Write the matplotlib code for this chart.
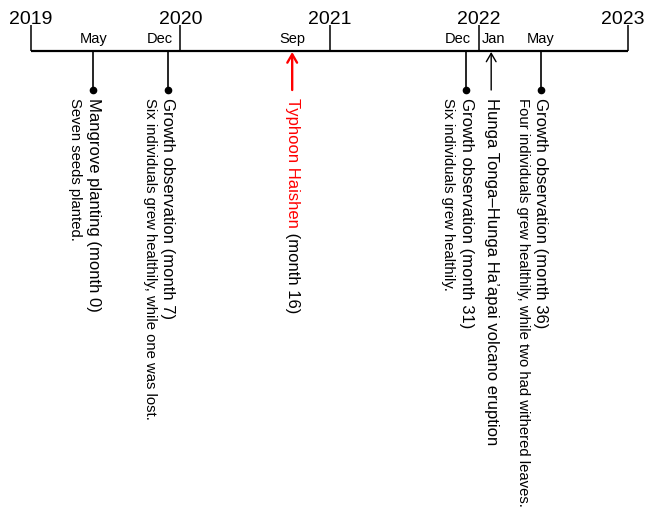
import matplotlib.pyplot as plt

plt.rcParams['font.family'] = ['Liberation Sans', 'DejaVu Sans']

# timeline data
years = [2019, 2020, 2021, 2022, 2023]
event_month = [5, 11, 21, 35, 37, 41]  # months after Jan 2019, as placed on the line
event_label = ['May', 'Dec', 'Sep', 'Dec', 'Jan', 'May']
event_kind = ['dot', 'dot', 'arrow', 'dot', 'arrow', 'dot']
event_color = ['black', 'black', 'red', 'black', 'black', 'black']
event_title = ['Mangrove planting (month 0)',
               'Growth observation (month 7)',
               'Typhoon Haishen',
               'Growth observation (month 31)',
               'Hunga Tonga\u2013Hunga Ha\u2019apai volcano eruption',
               'Growth observation (month 36)']
event_suffix = ['', '', ' (month 16)', '', '', '']
event_note = ['Seven seeds planted.',
              'Six individuals grew healthily, while one was lost.',
              '',
              'Six individuals grew healthily.',
              '',
              'Four individuals grew healthily, while two had withered leaves.']

# label nudges (points) so labels clear the ticks / figure edge
label_shift = {'Dec': -6, 'Jan': 2}
year_shift = {2023: -4}

W, H = 648, 517
x0, px_per_month = 31, 12.4375
fig = plt.figure(figsize=(W / 100, H / 100), dpi=100)
ax = fig.add_axes([0, 0, 1, 1])
ax.set_xlim(-x0 / px_per_month, (W - x0) / px_per_month)
ax.set_ylim(H, 0)
ax.axis('off')

axis_y, tick_top, stem_end, text_top = 51, 25, 90, 98

# main line and year ticks
yx = [(y - years[0]) * 12 for y in years]
ax.plot([yx[0], yx[-1]], [axis_y, axis_y], color='black', lw=1.6,
        solid_capstyle='butt', zorder=3)
ax.vlines(yx, tick_top, axis_y, color='black', lw=1.1)
for x, y in zip(yx, years):
    ax.annotate(str(y), xy=(x, tick_top - 0.5), xytext=(year_shift.get(y, 0), 0),
                textcoords='offset points', ha='center', va='baseline', fontsize=14)

for m, lab, kind, col, title, suf, note in zip(event_month, event_label, event_kind,
                                                event_color, event_title,
                                                event_suffix, event_note):
    ax.annotate(lab, xy=(m, 43), xytext=(label_shift.get(lab, 0), 0),
                textcoords='offset points', ha='center', va='baseline',
                fontsize=10.5)
    if kind == 'dot':
        ax.plot([m, m], [axis_y, stem_end], color='black', lw=1.2)
        ax.plot(m, stem_end, 'o', color='black', ms=4.5)
    else:
        lw = 1.7 if col == 'red' else 1.0
        ax.annotate('', xy=(m, axis_y + 1), xytext=(m, stem_end),
                    arrowprops=dict(arrowstyle='->,head_length=0.6,head_width=0.35',
                                    color=col, lw=lw, shrinkA=0, shrinkB=0))
    t = ax.text(m, text_top, title, rotation=270, ha='center', va='top',
                fontsize=12, color=col)
    if suf:
        ax.annotate(suf, xy=(0.5, 0), xycoords=t, rotation=270, ha='center',
                    va='top', fontsize=12, color='black')
    if note:
        ax.annotate(note, xy=(m, text_top), xytext=(-13, 0),
                    textcoords='offset points', rotation=270, ha='center',
                    va='top', fontsize=10.75)

fig.savefig('out.png', dpi=100)
